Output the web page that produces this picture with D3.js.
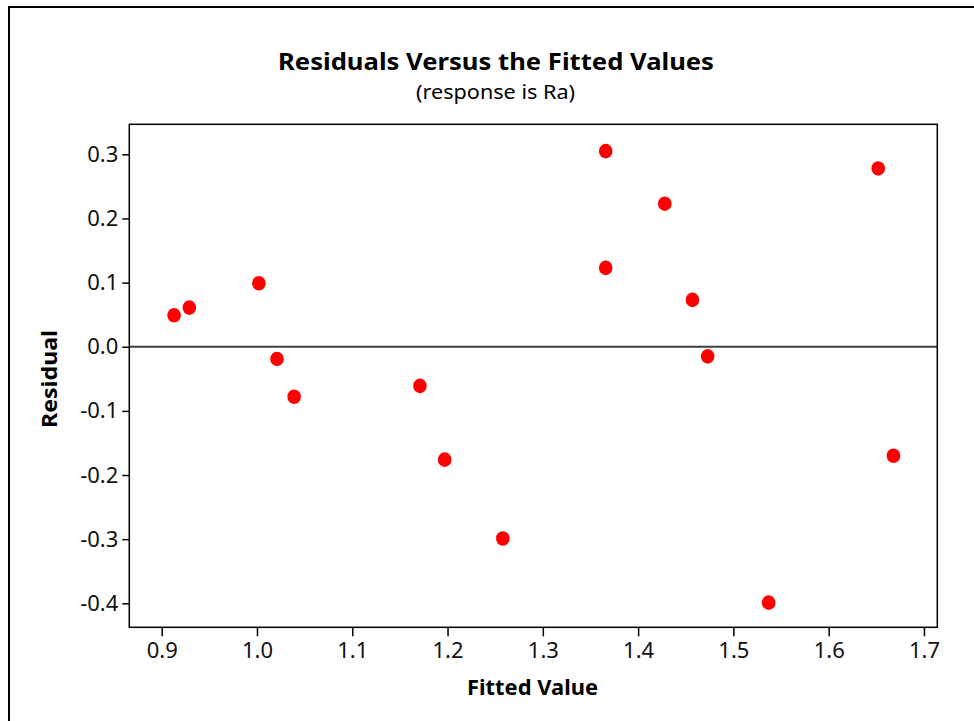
<!DOCTYPE html>
<html><head><meta charset="utf-8">
<script src="https://cdn.jsdelivr.net/npm/d3@7"></script>
<style>html,body{margin:0;padding:0;background:#fff;}svg{display:block;}</style>
</head><body>
<script>
const fittedValues = [0.913, 0.929, 1.002, 1.021, 1.039, 1.171, 1.197, 1.258, 1.366, 1.366, 1.428, 1.457, 1.473, 1.652, 1.668, 1.537];
const residuals    = [0.049, 0.061, 0.099, -0.019, -0.078, -0.061, -0.176, -0.299, 0.305, 0.123, 0.223, 0.073, -0.015, 0.278, -0.170, -0.399];
const xTicks = [0.9, 1.0, 1.1, 1.2, 1.3, 1.4, 1.5, 1.6, 1.7];
const yTicks = [0.3, 0.2, 0.1, 0.0, -0.1, -0.2, -0.3, -0.4];
const titleText = "Residuals Versus the Fitted Values";
const subtitleText = "(response is Ra)";
const xLabel = "Fitted Value";
const yLabel = "Residual";

const W = 974, H = 721;
const plot = {left: 129.3, right: 937.3, top: 124.3, bottom: 627.3};
const font = "'Noto Sans', sans-serif";

const svg = d3.select("body").append("svg").attr("width", W).attr("height", H);
svg.append("rect").attr("width", W).attr("height", H).attr("fill", "#fff");
// outer border
svg.append("rect").attr("x", 9).attr("y", 7).attr("width", W + 20).attr("height", H + 20)
  .attr("fill", "none").attr("stroke", "#000").attr("stroke-width", 2);

const x = d3.scaleLinear().domain([0.866, 1.714]).range([plot.left, plot.right]);
const y = d3.scaleLinear().domain([-0.4374, 0.3468]).range([plot.bottom, plot.top]);

const fmt = v => d3.format(".1f")(v).replace("\u2212", "-");
const xAxis = svg.append("g").attr("transform", `translate(0,${plot.bottom})`)
  .call(d3.axisBottom(x).tickValues(xTicks).tickFormat(fmt).tickSizeOuter(0).tickSizeInner(9).tickPadding(6));
const yAxis = svg.append("g").attr("transform", `translate(${plot.left},0)`)
  .call(d3.axisLeft(y).tickValues(yTicks).tickFormat(fmt).tickSizeOuter(0).tickSizeInner(7).tickPadding(4));
[xAxis, yAxis].forEach(g => {
  g.select(".domain").remove();
  g.selectAll(".tick line").attr("stroke", "#000").attr("stroke-width", 1.5);
  g.selectAll(".tick text").attr("font-family", font).attr("font-size", 22).attr("fill", "#111");
});

// zero reference line
svg.append("line").attr("x1", plot.left).attr("x2", plot.right)
  .attr("y1", y(0)).attr("y2", y(0)).attr("stroke", "#404040").attr("stroke-width", 2);

// frame
svg.append("rect").attr("x", plot.left).attr("y", plot.top)
  .attr("width", plot.right - plot.left).attr("height", plot.bottom - plot.top)
  .attr("fill", "none").attr("stroke", "#000").attr("stroke-width", 1.5);

// points
const pts = fittedValues.map((f, i) => ({f, r: residuals[i]}));
svg.append("g").selectAll("ellipse").data(pts).join("ellipse")
  .attr("cx", d => x(d.f)).attr("cy", d => y(d.r))
  .attr("rx", 6.8).attr("ry", 7.3).attr("fill", "#ff0000");

// titles
svg.append("text").attr("x", 496).attr("y", 70).attr("text-anchor", "middle")
  .attr("font-family", font).attr("font-weight", "bold").attr("font-size", 23)
  .attr("textLength", 436).attr("lengthAdjust", "spacingAndGlyphs").text(titleText);
svg.append("text").attr("x", 495.5).attr("y", 99).attr("text-anchor", "middle")
  .attr("font-family", font).attr("font-size", 19)
  .attr("textLength", 159).attr("lengthAdjust", "spacingAndGlyphs").text(subtitleText);
svg.append("text").attr("x", 532.5).attr("y", 695).attr("text-anchor", "middle")
  .attr("font-family", font).attr("font-weight", "bold").attr("font-size", 21)
  .attr("textLength", 131).attr("lengthAdjust", "spacingAndGlyphs").text(xLabel);
svg.append("text").attr("transform", "translate(57,379) rotate(-90)").attr("text-anchor", "middle")
  .attr("font-family", font).attr("font-weight", "bold").attr("font-size", 21)
  .attr("textLength", 98).attr("lengthAdjust", "spacingAndGlyphs").text(yLabel);
</script>
</body></html>
